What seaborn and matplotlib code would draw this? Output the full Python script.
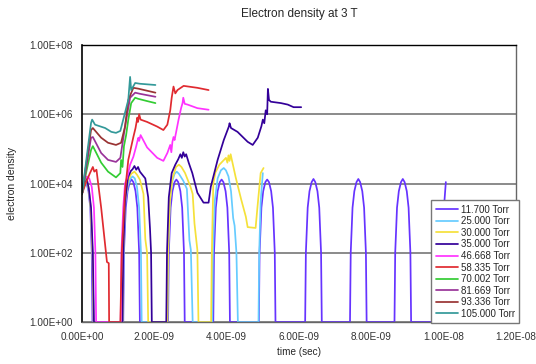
import matplotlib
matplotlib.use("Agg")
import matplotlib.pyplot as plt
import matplotlib.ticker as mticker
import numpy as np
import pandas as pd
import seaborn as sns

# times in ns, densities
t_117 = [0.00, 0.05, 0.12, 0.18, 0.23, 0.27, 0.29,
         1.14, 1.16, 1.21, 1.26, 1.32, 1.37, 1.42, 1.48, 1.53, 1.58, 1.60,
         2.38, 2.40, 2.45, 2.50, 2.56, 2.61, 2.66, 2.72, 2.77, 2.82, 2.84,
         3.63, 3.65, 3.70, 3.75, 3.81, 3.86, 3.91, 3.97, 4.02, 4.07, 4.09,
         4.89, 4.91, 4.96, 5.01, 5.07, 5.12, 5.17, 5.23, 5.28, 5.33, 5.35,
         6.17, 6.19, 6.24, 6.29, 6.35, 6.40, 6.45, 6.51, 6.56, 6.61, 6.63,
         7.41, 7.43, 7.48, 7.53, 7.59, 7.64, 7.69, 7.75, 7.80, 7.85, 7.87,
         8.64, 8.66, 8.71, 8.76, 8.82, 8.87, 8.92, 8.98, 9.03, 9.08, 9.10,
         9.96, 9.98, 10.02, 10.06]
n_117 = [5e3, 8e3, 1.1e4, 6e3, 2e3, 1e2, 1,
         1, 1e2, 2e3, 6e3, 1.1e4, 1.3e4, 1.1e4, 6e3, 2e3, 1e2, 1,
         1, 1e2, 2e3, 6e3, 1.1e4, 1.3e4, 1.1e4, 6e3, 2e3, 1e2, 1,
         1, 1e2, 2e3, 6e3, 1.1e4, 1.3e4, 1.1e4, 6e3, 2e3, 1e2, 1,
         1, 1e2, 2e3, 6e3, 1.1e4, 1.3e4, 1.1e4, 6e3, 2e3, 1e2, 1,
         1, 1e2, 2e3, 6e3, 1.1e4, 1.35e4, 1.1e4, 6e3, 2e3, 1e2, 1,
         1, 1e2, 2e3, 6e3, 1.1e4, 1.35e4, 1.1e4, 6e3, 2e3, 1e2, 1,
         1, 1e2, 2e3, 6e3, 1.1e4, 1.35e4, 1.1e4, 6e3, 2e3, 1e2, 1,
         1, 1e2, 3e3, 1.1e4]

t_250 = [0.00, 0.05, 0.12, 0.19, 0.24, 0.29, 0.32,
         1.13, 1.15, 1.20, 1.27, 1.34, 1.40, 1.46, 1.52, 1.58, 1.63, 1.65,
         2.36, 2.38, 2.43, 2.50, 2.56, 2.62, 2.68, 2.80, 2.90, 2.97, 3.01, 3.06,
         3.60, 3.62, 3.67, 3.75, 3.84, 3.92, 3.98, 4.05, 4.12, 4.18, 4.22, 4.27, 4.31,
         4.88, 4.90, 4.94, 5.00]
n_250 = [5e3, 9e3, 1.2e4, 6e3, 2e3, 1e2, 1,
         1, 1e2, 3e3, 9e3, 1.4e4, 1.6e4, 1.4e4, 8e3, 2e3, 1e2, 1,
         1, 1e2, 3e3, 1.2e4, 1.9e4, 2.2e4, 1.9e4, 1.2e4, 7e3, 2.3e2, 1.2e2, 1,
         1, 1e2, 3e3, 1.4e4, 2.4e4, 2.8e4, 2.4e4, 1.6e4, 6e3, 1e3, 6e2, 1e2, 1,
         1, 1e2, 3e3, 2e4]

t_300 = [0.00, 0.05, 0.13, 0.19, 0.24, 0.29, 0.32,
         1.12, 1.14, 1.19, 1.27, 1.36, 1.45, 1.52, 1.60, 1.70, 1.75, 1.80, 1.83,
         2.36, 2.38, 2.43, 2.50, 2.60, 2.68, 2.75, 2.85, 3.00, 3.06, 3.11, 3.19, 3.22,
         3.57, 3.59, 3.63, 3.69, 3.80, 3.90, 3.98, 4.02, 4.05, 4.08, 4.11, 4.14,
         4.25, 4.40, 4.53, 4.58, 4.80, 4.85, 4.94, 5.02]
n_300 = [5e3, 9e3, 1.2e4, 7e3, 2e3, 1e2, 1,
         1, 1e2, 3e3, 1.2e4, 1.9e4, 2.2e4, 1.8e4, 1.3e4, 5e3, 2.5e2, 1e2, 1,
         1, 1e2, 3e3, 1.4e4, 3e4, 3.5e4, 3e4, 2e4, 8e3, 5e3, 7e2, 1.2e2, 1,
         1, 1e2, 1e4, 2.1e4, 3.5e4, 4.5e4, 5.5e4, 4e4, 6.5e4, 4.5e4, 7e4, 5e4,
         1.5e4, 3.5e3, 1.1e3, 5.5e2, 5.2e2, 2e3, 2e4, 2.8e4]

t_350 = [0.00, 0.05, 0.13, 0.19, 0.25, 0.30, 0.33,
         1.12, 1.14, 1.19, 1.27, 1.35, 1.40, 1.45, 1.50, 1.55, 1.60, 1.75, 1.83, 1.88, 1.91, 1.93,
         2.33, 2.35, 2.40, 2.48, 2.58, 2.66, 2.72, 2.76, 2.80, 2.84, 2.88, 2.95, 3.05, 3.19,
         3.36, 3.50, 3.56, 3.75, 3.92, 4.00, 4.06, 4.08, 4.12, 4.30, 4.58, 4.72, 4.86,
         4.96, 5.00, 5.04, 5.08, 5.12, 5.14, 5.17, 5.22, 5.50, 5.69, 5.85, 6.06]
n_350 = [5e3, 1e4, 1.4e4, 7e3, 2e3, 1e2, 1,
         1, 1e2, 3e3, 1.5e4, 2.3e4, 2.6e4, 3.2e4, 2.5e4, 3e4, 2.2e4, 1.4e4, 4e3, 5e2, 1e2, 1,
         1, 1e2, 4e3, 2e4, 3.5e4, 5e4, 7e4, 5.5e4, 8e4, 6e4, 7e4, 4e4, 2e4, 5.4e3,
         2.8e3, 2.8e3, 8e3, 4.8e4, 1.8e5, 3e5, 4.4e5, 5.5e5, 4e5, 3.1e5, 1.6e5, 1.3e5, 2.1e5,
         4.5e5, 7e5, 5.5e5, 1.3e6, 1e6, 5.4e6, 2.6e6, 2.3e6, 2.1e6, 1.9e6, 1.6e6, 1.6e6]

t_467 = [0.00, 0.06, 0.14, 0.20, 0.27, 0.33, 0.37, 0.39,
         1.07, 1.09, 1.14, 1.19, 1.25, 1.33, 1.42, 1.50, 1.54, 1.56, 1.58, 1.62,
         1.80, 2.08, 2.25, 2.36, 2.44, 2.47, 2.50, 2.53, 2.56, 2.67, 2.74, 2.78, 2.80,
         2.84, 2.92, 3.19, 3.50]
n_467 = [5e3, 1.2e4, 1.6e4, 1.4e4, 8e3, 2e3, 1e2, 1,
         1, 1e2, 2e3, 1e4, 1.5e4, 3.5e4, 5.9e4, 1.2e5, 1.8e5, 2.1e5, 1.7e5, 2.5e5,
         1.1e5, 5.5e4, 4.5e4, 7.6e4, 1.3e5, 8e4, 1.6e5, 2.2e5, 1.8e5, 7e5, 1.5e6, 2.1e6, 3e6,
         2e6, 1.9e6, 1.5e6, 1.35e6]

t_583 = [0.00, 0.10, 0.22, 0.30, 0.34, 0.40, 0.53, 0.69, 0.74, 0.75,
         1.06, 1.10, 1.19, 1.28, 1.42, 1.48, 1.53, 1.55, 1.58, 1.62,
         1.80, 2.08, 2.25, 2.36, 2.44, 2.48, 2.53, 2.58, 2.64, 2.81, 3.19, 3.50]
n_583 = [5e3, 1e4, 2e4, 3e4, 2.2e4, 2.5e4, 2e3, 5.4e1, 5e1, 1,
         1, 1e2, 6e3, 4.8e4, 2.2e5, 4e5, 8e5, 6e5, 1e6, 7e5,
         6e5, 4.4e5, 3.5e5, 5e5, 1.3e6, 3e6, 6.3e6, 4e6, 5e6, 6.6e6, 5.8e6, 5e6]

t_700 = [0.00, 0.12, 0.25, 0.30, 0.53, 0.72, 0.94, 1.06, 1.08, 1.12, 1.16,
         1.22, 1.28, 1.36, 1.47, 1.55, 1.80, 2.03]
n_700 = [5e3, 2.2e4, 9.3e4, 1.2e5, 4e4, 2.2e4, 1.5e4, 2e4, 4.8e4, 3e4, 1.2e5,
         2.5e5, 7e5, 2.1e6, 3e6, 2.8e6, 2.4e6, 2.1e6]

t_817 = [0.00, 0.25, 0.30, 0.53, 0.72, 0.94, 1.06, 1.19, 1.33, 1.47, 1.60, 2.03]
n_817 = [5e3, 2.1e5, 2.2e5, 7.6e4, 4.8e4, 4.2e4, 5.5e4, 4.4e5, 3e6, 4.2e6, 3.9e6, 3.2e6]

t_933 = [0.00, 0.25, 0.30, 0.53, 0.72, 0.94, 1.08, 1.19, 1.28, 1.42, 1.55, 2.03]
n_933 = [5e3, 3.5e5, 4e5, 2.1e5, 1.5e5, 1.3e5, 1.5e5, 4.4e5, 2.6e6, 5.8e6, 5.5e6, 4.2e6]

t_1050 = [0.00, 0.25, 0.28, 0.36, 0.64, 0.81, 0.94, 1.06, 1.14, 1.28, 1.33,
          1.36, 1.47, 1.60, 2.03]
n_1050 = [5e3, 5.6e5, 7e5, 5e5, 4e5, 3.1e5, 2.9e5, 3.3e5, 7e5, 2.6e6, 1.2e7,
          5e6, 8e6, 7.6e6, 7e6]

labels = ["11.700 Torr", "25.000 Torr", "30.000 Torr", "35.000 Torr", "46.668 Torr",
          "58.335 Torr", "70.002 Torr", "81.669 Torr", "93.336 Torr", "105.000 Torr"]
colors = ["#6633ff", "#66ccff", "#f5e13a", "#330099", "#ff33ff",
          "#e02a30", "#33cc33", "#993399", "#993333", "#339999"]
series = [(t_117, n_117), (t_250, n_250), (t_300, n_300), (t_350, n_350),
          (t_467, n_467), (t_583, n_583), (t_700, n_700), (t_817, n_817),
          (t_933, n_933), (t_1050, n_1050)]

y_ticks = [1, 1e2, 1e4, 1e6, 1e8]
x_ticks = [0, 2e-9, 4e-9, 6e-9, 8e-9, 1e-8, 1.2e-8]

frames = []
for lab, (t, n) in zip(labels, series):
    frames.append(pd.DataFrame({"time": np.array(t) * 1e-9, "density": n, "pressure": lab}))
df = pd.concat(frames, ignore_index=True)

sns.set_style("white")
plt.rcParams["font.family"] = ["Liberation Sans", "DejaVu Sans"]

fig = plt.figure(figsize=(5.36, 3.64), dpi=100)
ax = fig.add_axes([82 / 536, 1 - 322 / 364, 434 / 536, 277 / 364])

sns.lineplot(data=df, x="time", y="density", hue="pressure", hue_order=labels,
             palette=colors, estimator=None, sort=False, lw=1.25, ax=ax)

ax.set_yscale("log")
ax.set_ylim(1, 1e8)
ax.set_xlim(0, 1.2e-8)

ax.yaxis.set_major_locator(mticker.FixedLocator(y_ticks))
ax.yaxis.set_minor_locator(mticker.LogLocator(base=10, subs=np.arange(1, 10), numticks=50))
ax.yaxis.set_minor_formatter(mticker.NullFormatter())
ax.yaxis.set_major_formatter(mticker.FuncFormatter(lambda v, p: f"{v:.2E}"))
ax.xaxis.set_major_locator(mticker.FixedLocator(x_ticks))
ax.xaxis.set_major_formatter(mticker.FuncFormatter(lambda v, p: f"{v:.2E}"))

ax.tick_params(axis="both", labelsize=7.2, colors="#333333")
ax.tick_params(axis="y", which="major", direction="out", length=3, width=0.8, color="black")
ax.tick_params(axis="y", which="minor", direction="in", length=2, width=0.5, color="black")
ax.tick_params(axis="x", which="major", direction="inout", length=4, width=0.8,
               color="#555555", pad=5)

ax.yaxis.grid(True, which="major", color="#777777", lw=1.2)
ax.set_axisbelow(True)
for side in ["top", "right", "bottom"]:
    ax.spines[side].set_color("#666666")
    ax.spines[side].set_linewidth(1.0)
ax.spines["top"].set_color("black")
ax.spines["left"].set_color("black")
ax.spines["left"].set_linewidth(1.2)

ax.set_title("Electron density at 3 T", fontsize=8.5, pad=20)
ax.set_xlabel("time (sec)", fontsize=7.2, labelpad=4)
ax.set_ylabel("electron density", fontsize=7.5, labelpad=9)

handles, labs = ax.get_legend_handles_labels()
leg = ax.legend(handles, labs, loc="lower right", bbox_to_anchor=(1.007, -0.004),
                borderaxespad=0, fontsize=7, frameon=True, fancybox=False,
                edgecolor="#777777", framealpha=1, handlelength=2.3, handletextpad=0.25,
                labelspacing=0.16, borderpad=0.45)
leg.get_frame().set_linewidth(1.0)

fig.savefig("out.png", dpi=100)
